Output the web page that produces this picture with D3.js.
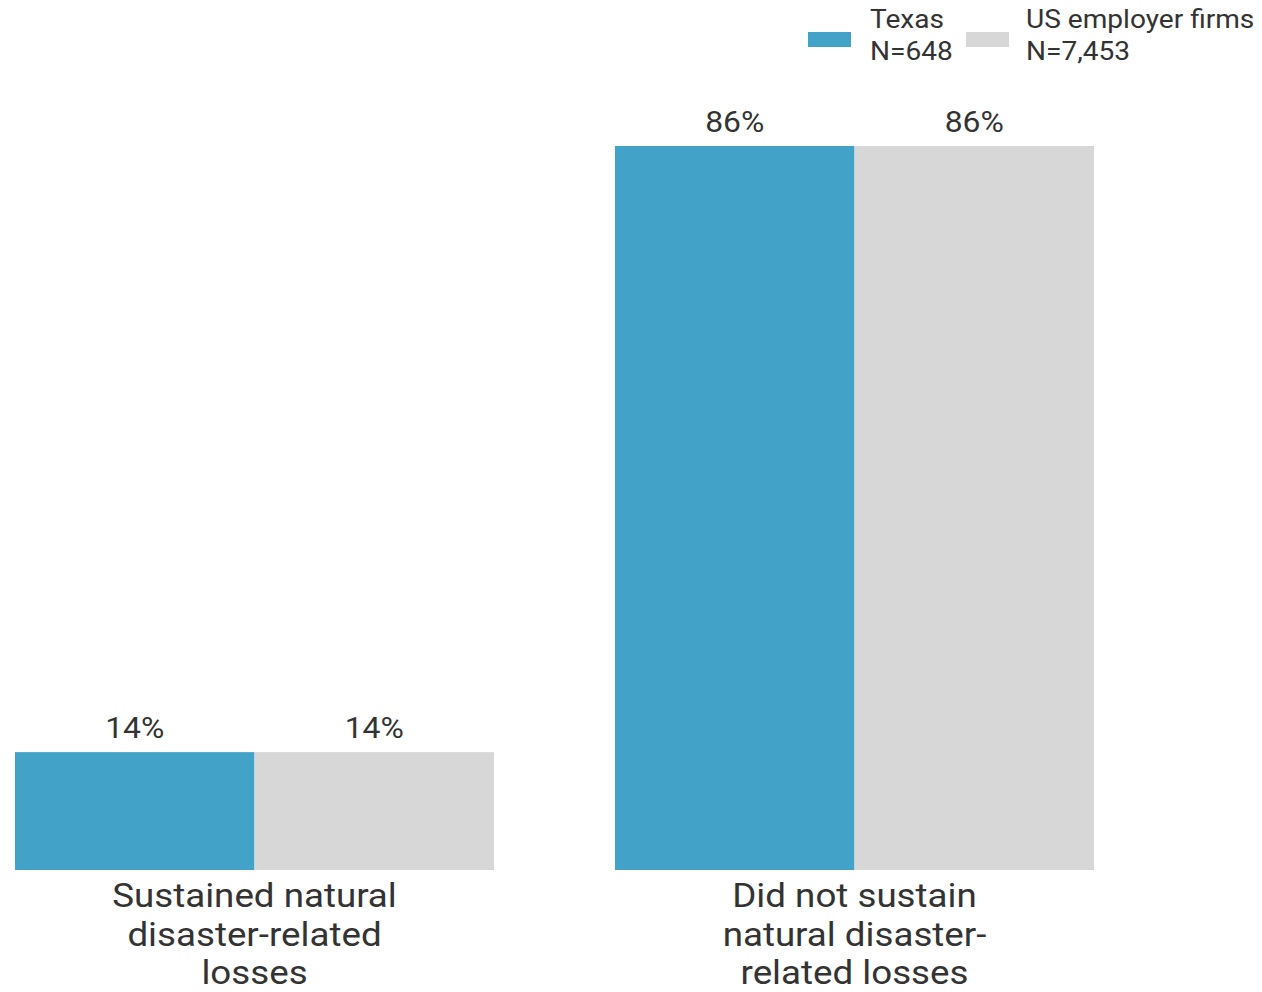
<!DOCTYPE html>
<html>
<head>
<meta charset="utf-8">
<script src="https://cdn.jsdelivr.net/npm/d3@7"></script>
<style>
  html, body { margin: 0; padding: 0; background: #fff; }
  svg { display: block; font-family: Roboto, "Noto Sans", sans-serif; }
</style>
</head>
<body>
<svg id="chart" width="1262" height="992"></svg>
<script>
const categories = [
  ["Sustained natural", "disaster-related", "losses"],
  ["Did not sustain", "natural disaster-", "related losses"]
];
const categoryKeys = ["sustained", "notSustained"];
const seriesNames = ["Texas", "US employer firms"];
const seriesN = ["N=648", "N=7,453"];
const texasValues = [14, 86];
const usValues = [14, 86];
const colors = ["#43A2C7", "#D7D7D7"];

const svg = d3.select("#chart");
const textColor = "#333333";
const stretch = 1.08; // text in the reference is slightly wider than Roboto

const baseline = 870;
const x0 = d3.scaleBand().domain(categoryKeys).range([15, 1094]).paddingInner(0.2017).paddingOuter(0);
const x1 = d3.scaleBand().domain(seriesNames).range([0, x0.bandwidth()]).padding(0);
const y = d3.scaleLinear().domain([0, d3.max(texasValues.concat(usValues))]).range([baseline, 146]);

const data = categoryKeys.map((k, i) => ({
  key: k,
  labels: categories[i],
  values: [
    { series: seriesNames[0], value: texasValues[i], color: colors[0] },
    { series: seriesNames[1], value: usValues[i], color: colors[1] }
  ]
}));

const groups = svg.selectAll("g.grp").data(data).join("g")
  .attr("class", "grp")
  .attr("transform", d => `translate(${x0(d.key)},0)`);

groups.selectAll("rect").data(d => d.values).join("rect")
  .attr("x", d => x1(d.series))
  .attr("width", x1.bandwidth())
  .attr("y", d => y(d.value))
  .attr("height", d => baseline - y(d.value))
  .attr("fill", d => d.color);

groups.selectAll("text.val").data(d => d.values).join("text")
  .attr("class", "val")
  .attr("transform", d => `translate(${x1(d.series) + x1.bandwidth() / 2},${y(d.value) - 14}) scale(${stretch},1)`)
  .attr("text-anchor", "middle")
  .attr("font-size", 29.5)
  .attr("fill", textColor)
  .text(d => d.value + "%");

groups.each(function(d) {
  const t = d3.select(this).append("text")
    .attr("transform", `translate(${x0.bandwidth() / 2},0) scale(${stretch},1)`)
    .attr("text-anchor", "middle")
    .attr("font-size", 34)
    .attr("fill", textColor);
  d.labels.forEach((line, i) => {
    t.append("tspan")
      .attr("x", 0)
      .attr("y", 907.5 + i * 38.5)
      .text(line);
  });
});

// Legend
const legendItems = [
  { name: seriesNames[0], n: seriesN[0], color: colors[0], sx: 808, tx: 870 },
  { name: seriesNames[1], n: seriesN[1], color: colors[1], sx: 966, tx: 1026 }
];
const lg = svg.append("g").attr("class", "legend");
legendItems.forEach(it => {
  lg.append("rect").attr("x", it.sx).attr("y", 32).attr("width", 43).attr("height", 15).attr("fill", it.color);
  const t = lg.append("text")
    .attr("transform", `translate(${it.tx},0) scale(${stretch},1)`)
    .attr("font-size", 26)
    .attr("fill", textColor);
  t.append("tspan").attr("x", 0).attr("y", 28).text(it.name);
  t.append("tspan").attr("x", 0).attr("y", 60).text(it.n);
});
</script>
</body>
</html>
